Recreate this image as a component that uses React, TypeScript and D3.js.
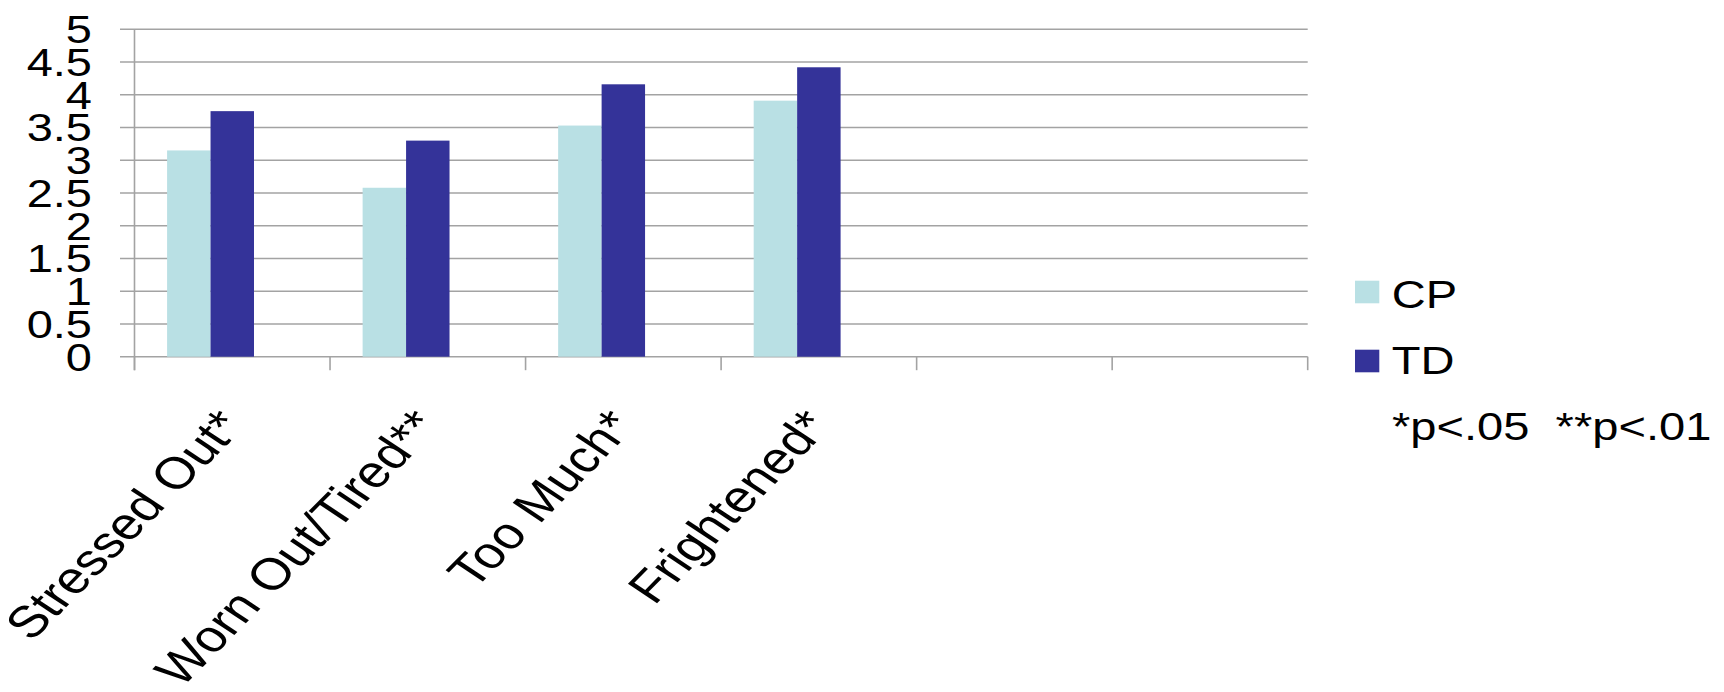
import React from "react";
import * as d3 from "d3";

const categories = ["Stressed Out*", "Worn Out/Tired**", "Too Much*", "Frightened*"];
const slotCount = 6; // six category slots on the axis, the last two empty
const seriesNames = ["CP", "TD"];
const cpValues = [3.15, 2.58, 3.53, 3.91];
const tdValues = [3.75, 3.3, 4.16, 4.42];
const yTicks = [0, 0.5, 1, 1.5, 2, 2.5, 3, 3.5, 4, 4.5, 5];
const noteText = "*p<.05  **p<.01";

const colors: Record<string, string> = { CP: "#B9E0E4", TD: "#343399" };
const gridColor = "#A3A3A3";
const FONT = "'Liberation Sans', Arial, sans-serif";
const SX = 1.22; // horizontal stretch of the original picture's text

export default function App() {
  const W = 1724;
  const H = 692;
  const left = 134.5;
  const right = 1307.7;
  const top = 29.3;
  const bottom = 356.7;

  const y = d3.scaleLinear().domain([0, 5]).range([bottom, top]);
  const x0 = d3.scaleBand<number>().domain(d3.range(slotCount)).range([left, right]).padding(0);
  const x1 = d3
    .scaleBand<string>()
    .domain([...seriesNames, "_empty"])
    .range([0, x0.bandwidth()])
    .paddingInner(0)
    .paddingOuter(0.75);

  const seriesData: Record<string, number[]> = { CP: cpValues, TD: tdValues };
  const boundaries = d3.range(slotCount + 1).map((i) => left + i * x0.step());

  return (
    <svg width={W} height={H} style={{ position: "absolute", left: 0, top: 0, background: "#fff" }} fontFamily={FONT}>
      {yTicks.map((t) => (
        <line key={"g" + t} x1={120} x2={right} y1={y(t)} y2={y(t)} stroke={gridColor} strokeWidth={1.6} />
      ))}
      <line x1={left} x2={left} y1={y(5)} y2={bottom + 13.5} stroke={gridColor} strokeWidth={1.6} />
      {boundaries.map((bx, i) => (
        <line key={"b" + i} x1={bx} x2={bx} y1={bottom} y2={bottom + 13.5} stroke={gridColor} strokeWidth={1.6} />
      ))}
      {categories.map((c, i) =>
        seriesNames.map((s) => {
          const v = seriesData[s][i];
          return (
            <rect
              key={c + s}
              x={(x0(i) as number) + (x1(s) as number)}
              y={y(v)}
              width={x1.bandwidth()}
              height={bottom - y(v)}
              fill={colors[s]}
            />
          );
        })
      )}
      {yTicks.map((t) => (
        <text key={"yl" + t} transform={`translate(92,${y(t)}) scale(${SX},1)`} textAnchor="end" dy="0.36em" fontSize={38.5} fill="#000">
          {String(t)}
        </text>
      ))}
      {categories.map((c, i) => {
        const cx = (x0(i) as number) + x0.bandwidth() / 2;
        return (
          <text
            key={"cl" + c}
            transform={`translate(${cx + 13},${426.5}) scale(${SX},1) rotate(-50.95)`}
            textAnchor="end"
            fontSize={44.7}
            fill="#000"
          >
            {c}
          </text>
        );
      })}
      {seriesNames.map((s, i) => (
        <g key={"lg" + s} transform={`translate(1355,${280.7 + i * 69})`}>
          <rect x={0} y={0} width={24.3} height={22.6} fill={colors[s]} />
          <text transform={`translate(36.7,${27 - i * 2.5}) scale(${SX},1)`} fontSize={38.6} fill="#000">
            {s}
          </text>
        </g>
      ))}
      <text transform={`translate(1392,440) scale(${SX},1)`} fontSize={38.6} fill="#000" xmlSpace="preserve" style={{ whiteSpace: "pre" }}>
        {noteText}
      </text>
    </svg>
  );
}
